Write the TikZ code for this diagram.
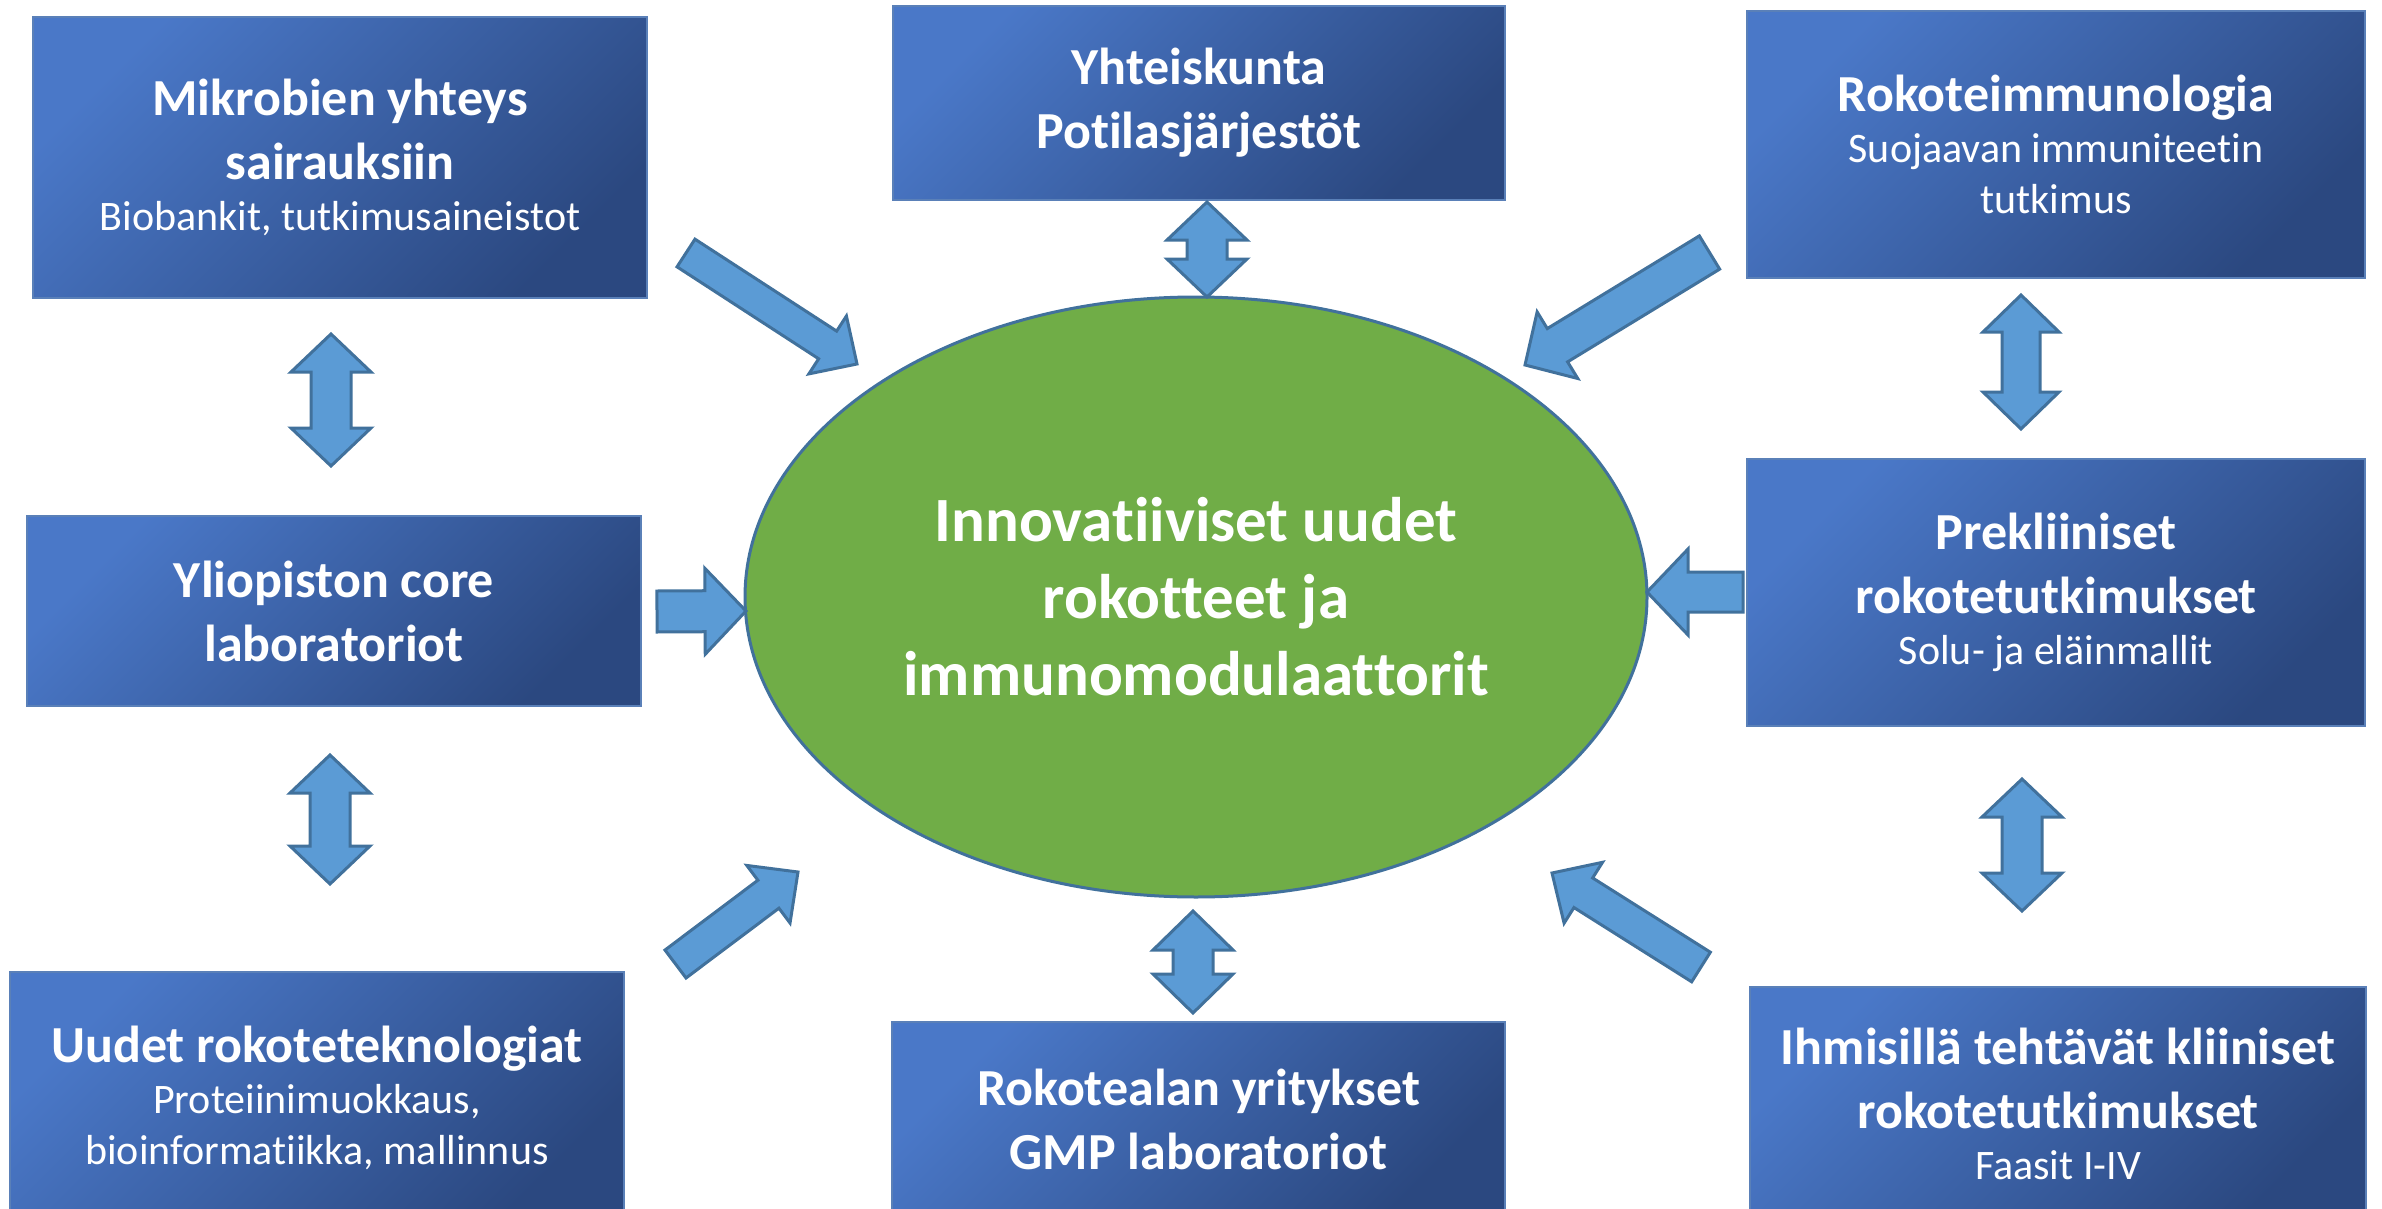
\documentclass[tikz,border=0pt]{standalone}
\usepackage{fontspec}
\setmainfont{Carlito}[Ligatures=NoCommon]
\usetikzlibrary{shapes.geometric,calc}
\definecolor{boxtl}{HTML}{4A78C8}
\definecolor{boxbr}{HTML}{2B4880}
\definecolor{boxline}{HTML}{5A80B8}
\definecolor{ellfill}{HTML}{70AD47}
\definecolor{shapeline}{HTML}{41719C}
\definecolor{arrowfill}{HTML}{5B9BD5}
\newcommand\fixspace{\spaceskip=\fontdimen2\font\relax\xspaceskip=\fontdimen2\font\relax}
\newcommand\boxttl{\fontsize{52}{64}\selectfont\bfseries\fixspace}
\newcommand\boxsubt{\fontsize{42}{51}\selectfont\fixspace}
\newcommand\ellfont{\fontsize{63}{77}\selectfont\bfseries}
\tikzset{
  bluebox/.style={rectangle, draw=boxline, line width=2.5pt, top color=boxtl,
    bottom color=boxbr, shading angle=45, text=white, text width=600pt,
    align=center, inner sep=0pt},
  blockarrow/.style={draw=shapeline, line width=3pt, fill=arrowfill, line join=miter},
}
% single block arrow: tail, tip, shaft half width, head half width, head length
\newcommand\blockarrow[5]{%
  \draw[blockarrow] ($(#1)!#3!90:(#2)$)
    -- ($($(#2)!#5!(#1)$)!#3!-90:(#1)$)
    -- ($($(#2)!#5!(#1)$)!#4!-90:(#1)$)
    -- (#2)
    -- ($($(#2)!#5!(#1)$)!#4!90:(#1)$)
    -- ($($(#2)!#5!(#1)$)!#3!90:(#1)$)
    -- ($(#1)!#3!-90:(#2)$) -- cycle;}
% double block arrow: tip A, tip B, shaft half width, head half width, head length
\newcommand\dblarrow[5]{%
  \draw[blockarrow] (#1)
    -- ($($(#1)!#5!(#2)$)!#4!90:(#2)$)
    -- ($($(#1)!#5!(#2)$)!#3!90:(#2)$)
    -- ($($(#2)!#5!(#1)$)!#3!-90:(#1)$)
    -- ($($(#2)!#5!(#1)$)!#4!-90:(#1)$)
    -- (#2)
    -- ($($(#2)!#5!(#1)$)!#4!90:(#1)$)
    -- ($($(#2)!#5!(#1)$)!#3!90:(#1)$)
    -- ($($(#1)!#5!(#2)$)!#3!-90:(#2)$)
    -- ($($(#1)!#5!(#2)$)!#4!-90:(#2)$)
    -- cycle;}
\begin{document}
\begin{tikzpicture}[x=1pt,y=-1pt]
\useasboundingbox (0,0) rectangle (2382,1209);
\clip (0,0) rectangle (2382,1209);

% boxes
\node[bluebox, minimum width=614pt, minimum height=281pt] (mik) at (340,157.5)
  {{\boxttl Mikrobien yhteys\\ sairauksiin\par}{\boxsubt Biobankit, tutkimusaineistot\par}};
\node[bluebox, minimum width=612pt, minimum height=194pt] (yht) at (1199,103)
  {{\boxttl Yhteiskunta\\ Potilasjärjestöt\par}};
\node[bluebox, minimum width=618pt, minimum height=267pt] (rim) at (2056,144.5)
  {{\boxttl Rokoteimmunologia\par}{\boxsubt Suojaavan immuniteetin\\ tutkimus\par}};
\node[bluebox, minimum width=614pt, minimum height=190pt] (yli) at (334,611)
  {{\boxttl Yliopiston core\\ laboratoriot\par}};
\node[bluebox, minimum width=618pt, minimum height=267pt] (pre) at (2056,592.5)
  {{\boxttl Prekliiniset\\ rokotetutkimukset\par}{\boxsubt Solu- ja eläinmallit\par}};
\node[bluebox, minimum width=614pt, minimum height=252pt] (uud) at (317,1098)
  {{\boxttl Uudet rokoteteknologiat\par}{\boxsubt Proteiinimuokkaus,\\ bioinformatiikka, mallinnus\par}};
\node[bluebox, minimum width=613pt, minimum height=194pt] (rok) at (1198.5,1119)
  {{\boxttl Rokotealan yritykset\\ GMP laboratoriot\par}};
\node[bluebox, minimum width=616pt, minimum height=234pt] (ihm) at (2058,1104)
  {{\boxttl Ihmisillä tehtävät kliiniset\\ rokotetutkimukset\par}{\boxsubt Faasit I-IV\par}};

% central ellipse
\node[ellipse, draw=shapeline, line width=3pt, fill=ellfill, minimum width=902pt,
  minimum height=600pt, inner sep=0pt, text=white, text width=620pt, align=center,
  font=\ellfont] (core) at (1196,597)
  {\fixspace Innovatiiviset uudet\\ rokotteet ja\\ immunomodulaattorit};

% arrow end points
\coordinate (a1t) at (686,253);   \coordinate (a1h) at (857,364);
\coordinate (a2t) at (1709.5,252.5); \coordinate (a2h) at (1525,365);
\coordinate (a3t) at (657,611.5); \coordinate (a3h) at (746,611);
\coordinate (a4t) at (1743,592);  \coordinate (a4h) at (1647,592);
\coordinate (a5t) at (675.5,964); \coordinate (a5h) at (798,872);
\coordinate (a6t) at (1701,967);  \coordinate (a6h) at (1552,873);

\blockarrow{a1t}{a1h}{16.5pt}{34.5pt}{35pt}
\blockarrow{a2t}{a2h}{19.5pt}{39pt}{38pt}
\blockarrow{a3t}{a3h}{20.5pt}{43pt}{41pt}
\blockarrow{a4t}{a4h}{20pt}{43pt}{41pt}
\blockarrow{a5t}{a5h}{17.5pt}{36pt}{37pt}
\blockarrow{a6t}{a6h}{17.5pt}{36pt}{37pt}

% double arrows
\coordinate (d1a) at (1207,202);  \coordinate (d1b) at (1207,297);
\coordinate (d2a) at (2021,295);  \coordinate (d2b) at (2021,429);
\coordinate (d3a) at (1193,911);  \coordinate (d3b) at (1193,1013);
\coordinate (d4a) at (331,334);   \coordinate (d4b) at (331,466);
\coordinate (d5a) at (330,755);   \coordinate (d5b) at (330,884);
\coordinate (d6a) at (2022,779);  \coordinate (d6b) at (2022,911);

\dblarrow{d1a}{d1b}{20pt}{40pt}{38pt}
\dblarrow{d2a}{d2b}{19pt}{38pt}{37pt}
\dblarrow{d3a}{d3b}{20pt}{40pt}{39pt}
\dblarrow{d4a}{d4b}{20pt}{40pt}{38pt}
\dblarrow{d5a}{d5b}{20pt}{40pt}{38pt}
\dblarrow{d6a}{d6b}{20pt}{40pt}{38pt}
\end{tikzpicture}
\end{document}
